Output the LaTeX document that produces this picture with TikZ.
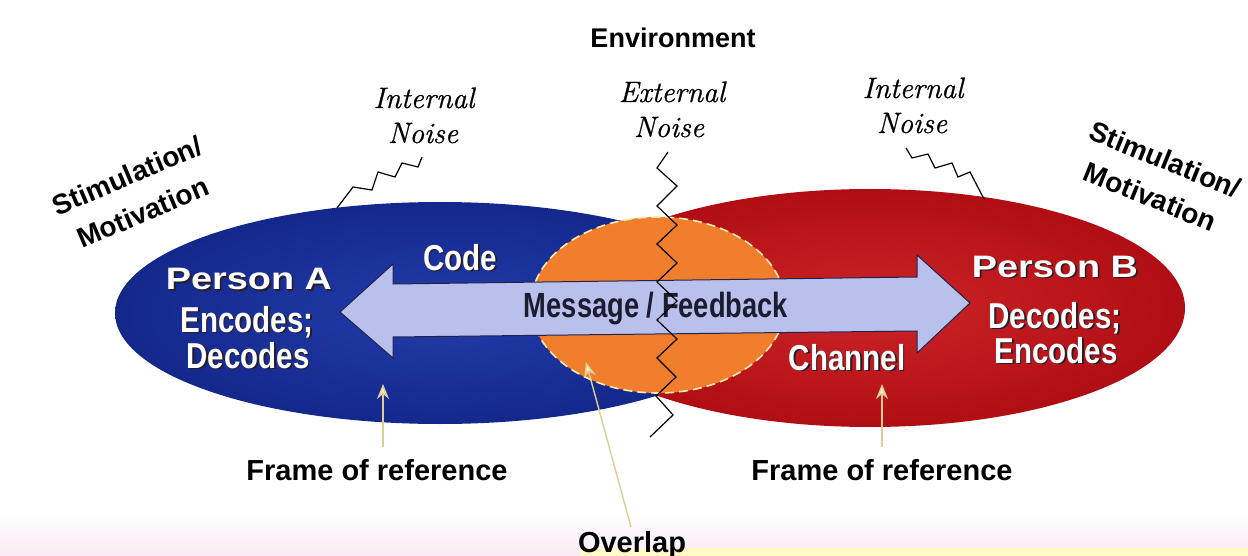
\documentclass[tikz,border=0pt]{standalone}
\usepackage{fontspec}
\newfontfamily\sans{Liberation Sans}
\newfontfamily\widesans[FakeStretch=1.22]{Liberation Sans}
\newfontfamily\condsans[FakeStretch=0.82]{Liberation Sans}
\newfontfamily\narrowsans[FakeStretch=0.78]{Liberation Sans}
\newfontfamily\noisefont[FakeBold=0.8]{Latin Modern Roman}
\usetikzlibrary{arrows.meta}

\definecolor{blueIn}{RGB}{34,60,170}
\definecolor{blueOut}{RGB}{20,40,140}
\definecolor{redIn}{RGB}{204,36,40}
\definecolor{redOut}{RGB}{176,14,20}
\definecolor{overlapfill}{RGB}{240,126,44}
\definecolor{dashline}{RGB}{246,236,178}
\definecolor{arrowfill}{RGB}{186,192,236}
\definecolor{arrowline}{RGB}{32,34,78}
\definecolor{msgtext}{RGB}{28,28,48}
\definecolor{pointerline}{RGB}{222,206,150}
\definecolor{pointerfill}{RGB}{246,240,190}
\definecolor{bandpink}{RGB}{250,234,246}
\definecolor{bandyellow}{RGB}{254,250,200}
\definecolor{textshadow}{RGB}{40,30,40}

% white lettering with a small dark drop shadow
\newcommand\dropshadow[1]{\rlap{\kern1.6pt\raisebox{-1.6pt}{\color{textshadow}#1}}#1}

\begin{document}
\begin{tikzpicture}[x=1pt,y=-1pt,
  txt/.style={inner sep=0pt, anchor=base},
  ontext/.style={txt, text=white},
  personlbl/.style={ontext, font=\widesans\bfseries\fontsize{31}{36}\selectfont},
  rolelbl/.style={ontext, font=\condsans\bfseries\fontsize{36}{40}\selectfont},
  msglbl/.style={txt, text=msgtext, font=\narrowsans\bfseries\fontsize{35}{40}\selectfont},
  heading/.style={txt, font=\sans\bfseries\fontsize{27}{32}\selectfont},
  caption/.style={txt, font=\sans\bfseries\fontsize{29}{34}\selectfont},
  noise/.style={txt, font=\noisefont\itshape\fontsize{29.5}{34}\selectfont},
  stim/.style={inner sep=0pt, align=center, font=\sans\bfseries\fontsize{28}{40}\selectfont},
  zigzag/.style={draw=black, line width=1.2pt, line join=miter},
  pointer/.style={draw=pointerline, line width=1.4pt,
    -{Stealth[length=15pt,width=12pt,fill=pointerfill]}}
]
\useasboundingbox (0,0) rectangle (1248,556);

% faint page tint along the lower edge
\shade[top color=white, bottom color=bandpink] (0,512) rectangle (1248,556);
\fill[bandyellow] (580,548) rectangle (1248,556);

% the two communicators
\shade[inner color=blueIn, outer color=blueOut]
  (440,313) ellipse [x radius=325pt, y radius=111pt];
\begin{scope}
  \clip (656,0) rectangle (1248,556);
  \shade[inner color=redIn, outer color=redOut]
    (870,308) ellipse [x radius=315pt, y radius=119pt];
\end{scope}

% shared field of experience
\filldraw[fill=overlapfill, draw=dashline, line width=1.6pt, dash pattern=on 9pt off 5pt]
  (658,305) ellipse [x radius=127pt, y radius=88pt];

% two-way message arrow
\filldraw[fill=arrowfill, draw=arrowline, line width=1pt, line join=miter]
  (340,312) -- (393,264) -- (393,284) -- (917,277) -- (917,255) -- (970,303)
  -- (917,353) -- (917,331) -- (393,337) -- (393,358) -- cycle;

% labels inside the ellipses
\node[personlbl] (personA) at (249,290) {\dropshadow{Person A}};
\node[rolelbl]   (encA)    at (247,332) {\dropshadow{Encodes;}};
\node[rolelbl]   (decA)    at (248,368) {\dropshadow{Decodes}};
\node[rolelbl]   (code)    at (460,270) {\dropshadow{Code}};
\node[msglbl]    (msg)     at (656,317) {Message / Feedback};
\node[rolelbl]   (channel) at (847,370) {\dropshadow{Channel}};
\node[personlbl] (personB) at (1055,277) {\dropshadow{Person B}};
\node[rolelbl]   (decB)    at (1055,328) {\dropshadow{Decodes;}};
\node[rolelbl]   (encB)    at (1056,363) {\dropshadow{Encodes}};

% surrounding labels
\node[heading] (env) at (673,48) {Environment};
\node[noise] (inA1) at (424,108) {Internal};
\node[noise] (inA2) at (423,143) {Noise};
\node[noise] (ex1)  at (672,102) {External};
\node[noise] (ex2)  at (669,137) {Noise};
\node[noise] (inB1) at (913,98)  {Internal};
\node[noise] (inB2) at (912,133) {Noise};
\node[stim, rotate=23]  (stimA) at (135,194)  {Stimulation/\\Motivation};
\node[stim, rotate=-22] (stimB) at (1158,178) {Stimulation/\\Motivation};

% noise lines
\coordinate (nA) at (422,157);
\coordinate (nAend) at (337,208);
\draw[zigzag] (nA) -- (418,167) -- (402,163) -- (395,177) -- (378,172)
  -- (372,190) -- (353,187) -- (nAend);
\coordinate (nB) at (906,148);
\coordinate (nBend) at (984,199);
\draw[zigzag] (nB) -- (912,158) -- (928,154) -- (935,168) -- (952,163)
  -- (958,177) -- (970,172) -- (nBend);
\coordinate (nX) at (668,152);
\coordinate (nXend) at (650,437);
\draw[zigzag] (nX) -- (657,168) -- (677,186) -- (657,206) -- (677,225)
  -- (657,244) -- (677,263) -- (657,282) -- (677,301) -- (657,320)
  -- (677,339) -- (657,358) -- (676,377) -- (656,396) -- (673,415) -- (nXend);

% captions with pointers
\node[caption] (frameA) at (377,480) {Frame of reference};
\node[caption] (frameB) at (882,480) {Frame of reference};
\node[caption] (overlapLbl) at (632,552) {Overlap};
\coordinate (tipA) at (383,384);
\coordinate (tipB) at (882,384);
\coordinate (tipO) at (586,362);
\draw[pointer, shorten <=12pt] (frameA.north -| tipA) -- (tipA);
\draw[pointer, shorten <=12pt] (frameB.north -| tipB) -- (tipB);
\draw[pointer, shorten <=4pt] (overlapLbl.north) -- (tipO);
\end{tikzpicture}
\end{document}
